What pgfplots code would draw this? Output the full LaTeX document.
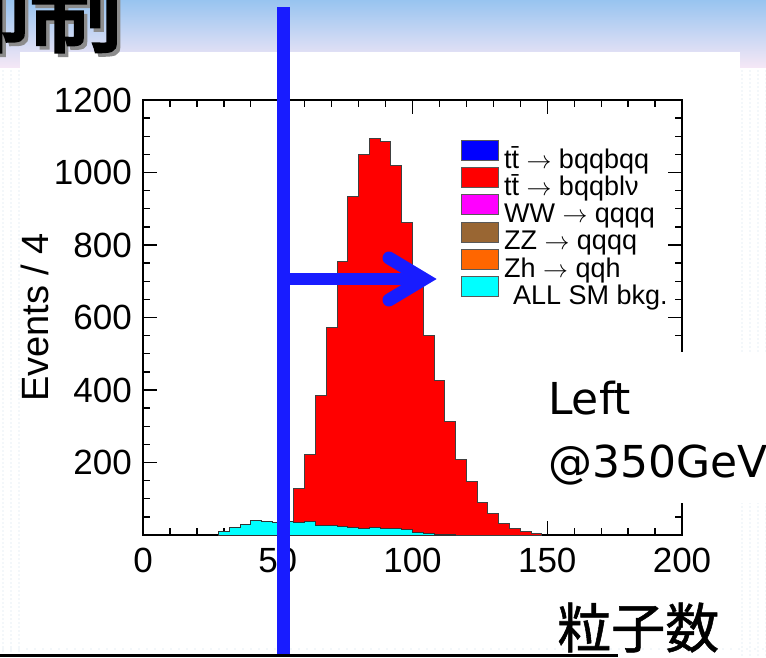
\documentclass[border=0pt]{standalone}
\usepackage{pgfplots}
\pgfplotsset{compat=1.18}
\usepackage{fontspec}
\setmainfont{Liberation Sans}
\newfontfamily\dejavu{DejaVu Sans}
\newfontfamily\cjktitle[FakeBold=4]{Noto Sans CJK JP}
\newfontfamily\cjk[FakeBold=1]{Noto Sans CJK JP}

\definecolor{markblue}{RGB}{24,28,255}
\definecolor{bandtop}{RGB}{152,196,240}
\definecolor{bandbot}{RGB}{246,232,246}
\definecolor{dotc}{RGB}{205,222,236}
\definecolor{legblue}{RGB}{0,0,255}
\definecolor{histred}{RGB}{255,0,0}
\definecolor{legmagenta}{RGB}{255,0,255}
\definecolor{legbrown}{RGB}{153,102,51}
\definecolor{legorange}{RGB}{255,102,0}
\definecolor{histcyan}{RGB}{0,255,255}

\pgfplotsset{
  legbox/.style={legend image code/.code={
    \draw[fill=#1, draw=black!65, line width=0.9pt] (0pt,-1pt) rectangle (37pt,19pt);}},
}

\begin{document}
\begin{tikzpicture}[x=1pt,y=1pt]
\useasboundingbox (0,0) rectangle (766,657);
\clip (0,0) rectangle (766,657);
\fill[white] (0,0) rectangle (766,657);

% faint dotted slide texture
\foreach \x in {3,11,19}{\foreach \y in {2,6,...,590}{\fill[dotc] (\x,\y) circle (0.6);}}
\foreach \x in {742,750,758,766}{\foreach \y in {2,6,...,590}{\fill[dotc] (\x,\y) circle (0.6);}}
\foreach \x in {3,11,...,766}{\fill[dotc] (\x,8) circle (0.6);}

% title band
\shade[top color=bandtop, bottom color=bandbot] (0,589) rectangle (766,657);

% white content panel
\fill[white] (20,12) rectangle (740,605);

% slide title
\node[anchor=base west, inner sep=0pt, font=\cjktitle\fontsize{92}{92}\selectfont, text=black!45] at (-59,609) {抑制};
\node[anchor=base west, inner sep=0pt, font=\cjktitle\fontsize{92}{92}\selectfont, text=black] at (-62.5,612.5) {抑制};

\begin{axis}[
  at={(143pt,122pt)}, anchor=south west,
  scale only axis, width=539pt, height=435pt,
  xmin=0, xmax=200, ymin=0, ymax=1200,
  xtick={0,50,...,200}, minor xtick={0,10,...,200},
  ytick={200,400,...,1200}, minor ytick={0,50,...,1200},
  tick align=inside, major tick length=14pt, minor tick length=7pt,
  every tick/.style={black, line width=1.3pt},
  axis line style={line width=1.6pt},
  /pgf/number format/assume math mode=true,
  /pgf/number format/1000 sep={},
  tick label style={font=\fontsize{35}{35}\selectfont},
  yticklabel style={inner sep=0pt, xshift=-11pt},
  xticklabel style={inner sep=0pt, yshift=-13pt},
  ylabel={Events / 4},
  ylabel style={at={(axis description cs:-0.176,0.5)}, anchor=base, font=\fontsize{38}{38}\selectfont},
  legend cell align=left,
  legend style={at={(axis description cs:0.590,0.909)}, anchor=north west,
    draw=none, fill=none, inner sep=0pt, row sep=-4.2pt,
    font=\fontsize{27}{27}\selectfont,
    nodes={text height=19pt, text depth=1pt},
    /tikz/every odd column/.append style={column sep=3pt}},
]
% ttbar -> bqqblnu
\addplot[const plot mark left, fill=histred, draw=black!75, line width=1pt, forget plot] coordinates {
  (56,127) (60,223) (64,385) (68,572) (72,755) (76,934) (80,1050) (84,1093)
  (88,1085) (92,1019) (96,861) (100,700) (104,549) (108,425) (112,313)
  (116,209) (120,147) (124,90) (128,58) (132,33) (136,19) (140,10) (144,5) (148,0)
} \closedcycle;
% all SM background
\addplot[const plot mark left, fill=histcyan, draw=black!80, line width=1pt, forget plot] coordinates {
  (28,11) (32,20) (36,28) (40,40) (44,37) (48,35) (52,38) (56,34) (60,37)
  (64,25) (68,25) (72,23) (76,22) (80,18) (84,21) (88,19) (92,18) (96,14)
  (100,8) (104,4) (108,2) (112,1) (116,0)
} \closedcycle;

\addlegendimage{legbox=legblue}
\addlegendentry{t\={t} $\rightarrow$ bqqbqq}
\addlegendimage{legbox=histred}
\addlegendentry{t\={t} $\rightarrow$ bqqblν}
\addlegendimage{legbox=legmagenta}
\addlegendentry{WW $\rightarrow$ qqqq}
\addlegendimage{legbox=legbrown}
\addlegendentry{ZZ $\rightarrow$ qqqq}
\addlegendimage{legbox=legorange}
\addlegendentry{Zh $\rightarrow$ qqh}
\addlegendimage{legbox=histcyan}
\addlegendentry{\hspace{9pt}ALL SM bkg.}
\end{axis}

% annotation box
\fill[white] (545,154) rectangle (766,305);
\node[anchor=base west, inner sep=0pt, font=\dejavu\fontsize{44}{44}\selectfont] at (548,243) {Left};
\node[anchor=base west, inner sep=0pt, font=\dejavu\fontsize{44}{44}\selectfont] at (548,180) {@350GeV};

% cut line and direction arrow
\fill[markblue] (277,0) rectangle (290,650);
\draw[markblue, line width=12pt] (283,378) -- (422,378);
\draw[markblue, line width=13pt, line cap=round, line join=miter] (389,399) -- (424,378) -- (389,357);

% axis caption
\node[anchor=base west, inner sep=0pt, font=\cjk\fontsize{54}{54}\selectfont] at (557,9) {粒子数};
\fill[black] (0,0) rectangle (618,3.5);
\end{tikzpicture}
\end{document}
